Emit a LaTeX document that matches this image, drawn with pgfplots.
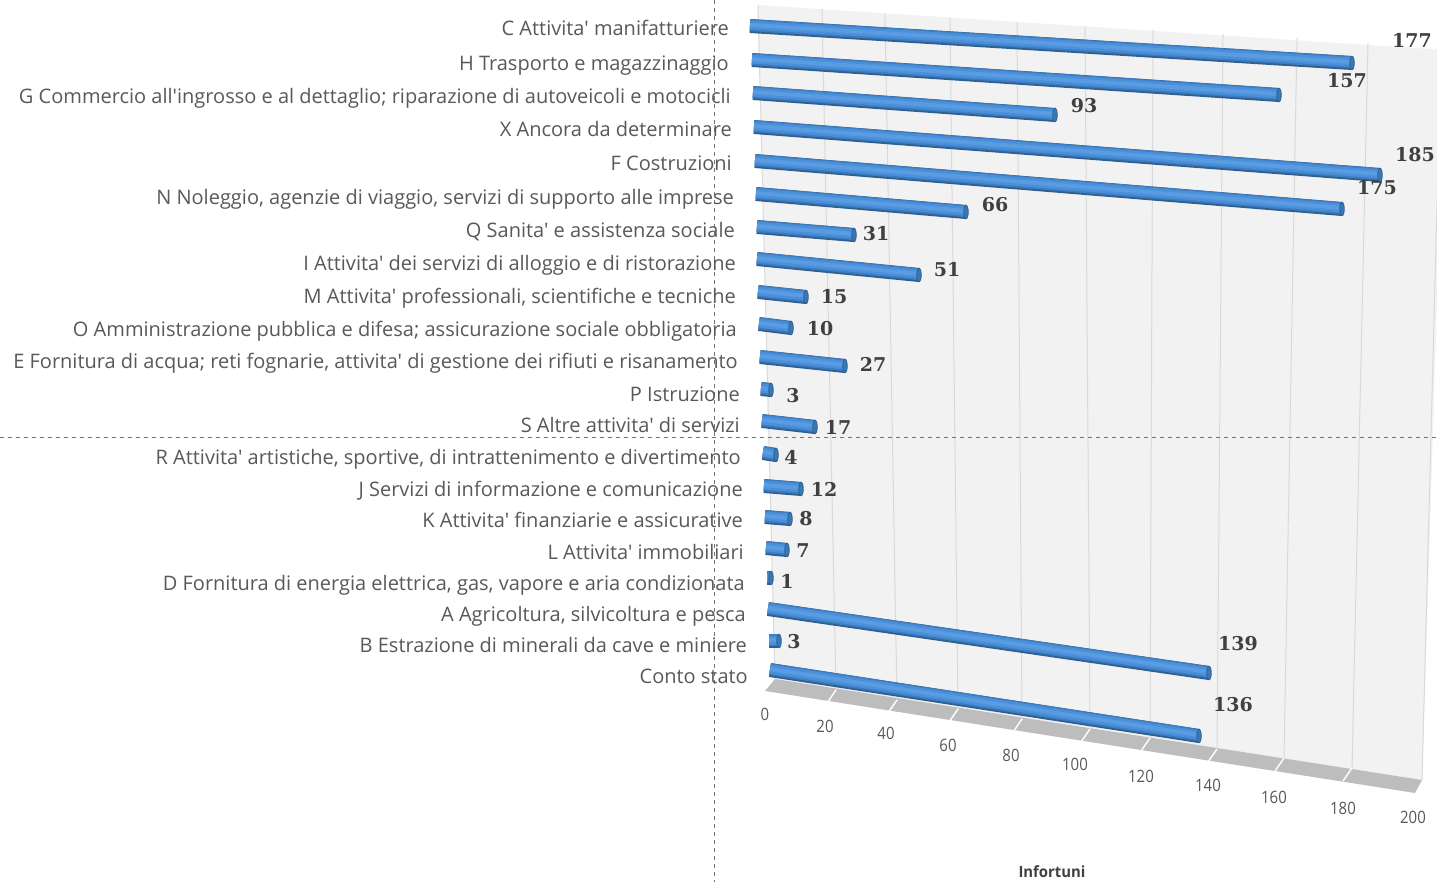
\documentclass[border=0pt]{standalone}
\usepackage{graphicx}
\usepackage{fontspec}
\usepackage{pgfplots}
\pgfplotsset{compat=1.18}
\newfontfamily\catf{Open Sans}
\newfontfamily\valf{DejaVu Serif}[BoldFont={DejaVu Serif Bold}]
\definecolor{barD}{HTML}{2F5F90}
\definecolor{barM}{HTML}{3D7CBF}
\definecolor{barL}{HTML}{4A8FD9}
\definecolor{barH}{HTML}{5A9CE2}
\definecolor{capI}{HTML}{3A78B4}
\definecolor{txt}{HTML}{595959}
\definecolor{vallab}{HTML}{404040}
% value, x0, y0, x1, y1 (picture coordinates of the bar in its perspective view)
\newcommand\cyl[5]{%
  \pgfmathsetmacro\xa{#2+1}\pgfmathsetmacro\xb{#4-2}%
  \addplot[barD,line width=14pt,forget plot] coordinates {(\xa,#3)(\xb,#5)};
  \addplot[barM,line width=12pt,forget plot,transform canvas={yshift=.8pt}] coordinates {(\xa,#3)(\xb,#5)};
  \addplot[barL,line width=9pt,forget plot,transform canvas={yshift=1pt}] coordinates {(\xa,#3)(\xb,#5)};
  \addplot[barH,line width=4pt,forget plot,transform canvas={yshift=1pt}] coordinates {(\xa,#3)(\xb,#5)};
  \addplot[only marks,forget plot,mark=*,mark size=6.8pt,mark options={xscale=.33,fill=capI,draw=barD,line width=.8pt}] coordinates {(\xb,#5)};
}
\newcommand\clab[3]{\node[anchor=east,inner sep=0pt,yshift=-2pt,text height=14.5pt,text depth=4.5pt,text=txt,font=\catf\fontsize{20}{23}\selectfont] at (axis cs:#1,#2) {#3};}
\newcommand\vlab[3]{\node[inner sep=0pt,text=vallab,font=\valf\bfseries\fontsize{19}{22}\selectfont] at (axis cs:#1,#2) {#3};}
\newcommand\tklab[3]{\node[inner sep=0pt,text=txt,font=\catf\fontsize{17}{20}\selectfont] at (axis cs:#1,#2) {\scalebox{.88}[1]{#3}};}
\newcommand\gridl[4]{%
  \addplot[color=black!15,line width=1pt,forget plot] coordinates {(#1,#2)(#3,#4)};
}
\newcommand\flr[2]{%
  \pgfmathsetmacro\xf{#1-9}\pgfmathsetmacro\yf{#2+13}%
  \addplot[white,line width=1.4pt,forget plot] coordinates {(#1,#2)(\xf,\yf)};
}
\begin{document}
\begin{tikzpicture}
\begin{axis}[
  scale only axis,width=1437pt,height=882pt,
  xmin=0,xmax=1437,ymin=0,ymax=882,y dir=reverse,hide axis,
]
\addplot[fill=white,draw=none,forget plot] coordinates {(0,0)(1437,0)(1437,882)(0,882)} --cycle;
% wall
\addplot[fill=black!5,draw=none,forget plot] coordinates {(758,5)(1445,50)(1422,780)(775,680)} --cycle;
% floor
\addplot[fill=black!26,draw=none,forget plot] coordinates {(775,679)(1422,780)(1415,793)(765,691)} --cycle;
% grid
\gridl{758}{5}{775}{680}
\gridl{822}{9}{836}{690}
\gridl{885}{14}{897}{700}
\gridl{950}{18}{958}{709}
\gridl{1017}{22}{1022}{719}
\gridl{1085}{26}{1090}{729}
\gridl{1153}{30}{1150}{738}
\gridl{1223}{34}{1217}{749}
\gridl{1297}{38}{1284}{758}
\gridl{1368}{43}{1352}{768}
\gridl{1441}{50}{1422}{780}
\flr{836}{690}\flr{897}{700}\flr{958}{709}\flr{1022}{719}\flr{1090}{729}
\flr{1150}{738}\flr{1217}{749}\flr{1284}{758}\flr{1352}{768}
% crosshair
\addplot[black!55,line width=1pt,dash pattern=on 4pt off 4pt,forget plot] coordinates {(0,437)(1437,437)};
\addplot[black!55,line width=1pt,dash pattern=on 4pt off 4pt,forget plot] coordinates {(714,0)(714,882)};
% bars
\cyl{177}{749}{26}{1354}{63}
\cyl{157}{751}{60}{1281}{95}
\cyl{93}{752}{93}{1057}{115}
\cyl{185}{753}{127}{1382}{175}
\cyl{175}{754}{161}{1344}{209}
\cyl{66}{755}{194}{968}{212}
\cyl{31}{756}{227}{856}{235}
\cyl{51}{756}{259}{921}{275}
\cyl{15}{757}{292}{808}{297}
\cyl{10}{758}{324}{793}{328}
\cyl{27}{759}{357}{847}{366}
\cyl{3}{760}{389}{773}{390}
\cyl{17}{761}{421}{817}{427}
\cyl{4}{762}{453}{778}{455}
\cyl{12}{763}{486}{803}{489}
\cyl{8}{764}{517}{792}{519}
\cyl{7}{765}{548}{789}{550}
\cyl{1}{766}{578}{773}{578}
\cyl{139}{767}{609}{1211}{673}
\cyl{3}{768}{641}{781}{641}
\cyl{136}{769}{670}{1201}{736}
% categories
\clab{729}{29}{C Attivita' manifatturiere}
\clab{729}{64}{H Trasporto e magazzinaggio}
\clab{731}{97}{G Commercio all'ingrosso e al dettaglio; riparazione di autoveicoli e motocicli}
\clab{732}{130}{X Ancora da determinare}
\clab{732}{164}{F Costruzioni}
\clab{734}{198}{N Noleggio, agenzie di viaggio, servizi di supporto alle imprese}
\clab{735}{231}{Q Sanita' e assistenza sociale}
\clab{736}{264}{I Attivita' dei servizi di alloggio e di ristorazione}
\clab{736}{297}{M Attivita' professionali, scientifiche e tecniche}
\clab{737}{330}{O Amministrazione pubblica e difesa; assicurazione sociale obbligatoria}
\clab{738}{362}{E Fornitura di acqua; reti fognarie, attivita' di gestione dei rifiuti e risanamento}
\clab{740}{394}{P Istruzione}
\clab{740}{425}{S Altre attivita' di servizi}
\clab{741}{457}{R Attivita' artistiche, sportive, di intrattenimento e divertimento}
\clab{743}{489}{J Servizi di informazione e comunicazione}
\clab{743}{520}{K Attivita' finanziarie e assicurative}
\clab{744}{552}{L Attivita' immobiliari}
\clab{745}{583}{D Fornitura di energia elettrica, gas, vapore e aria condizionata}
\clab{746}{614}{A Agricoltura, silvicoltura e pesca}
\clab{747}{645}{B Estrazione di minerali da cave e miniere}
\clab{748}{676}{Conto stato}
% values
\vlab{1412}{40}{177}\vlab{1347}{81}{157}\vlab{1084}{106}{93}\vlab{1415}{155}{185}
\vlab{1377}{188}{175}\vlab{995}{205}{66}\vlab{876}{234}{31}\vlab{947}{270}{51}
\vlab{834}{297}{15}\vlab{820}{329}{10}\vlab{873}{364}{27}\vlab{793}{396}{3}
\vlab{838}{427}{17}\vlab{791}{457}{4}\vlab{824}{489}{12}\vlab{806}{519}{8}
\vlab{803}{551}{7}\vlab{787}{581}{1}\vlab{1238}{644}{139}\vlab{794}{642}{3}
\vlab{1233}{705}{136}
% ticks
\tklab{765}{714}{0}\tklab{825}{726}{20}\tklab{886}{733}{40}\tklab{948}{745}{60}
\tklab{1011}{755}{80}\tklab{1075}{764}{100}\tklab{1141}{776}{120}\tklab{1208}{785}{140}
\tklab{1274}{797}{160}\tklab{1343}{808}{180}\tklab{1413}{817}{200}
\node[inner sep=0pt,text=vallab,font=\catf\bfseries\fontsize{15.5}{18}\selectfont] at (axis cs:1052,872) {\scalebox{.96}[1]{Infortuni}};
\end{axis}
\end{tikzpicture}
\end{document}
